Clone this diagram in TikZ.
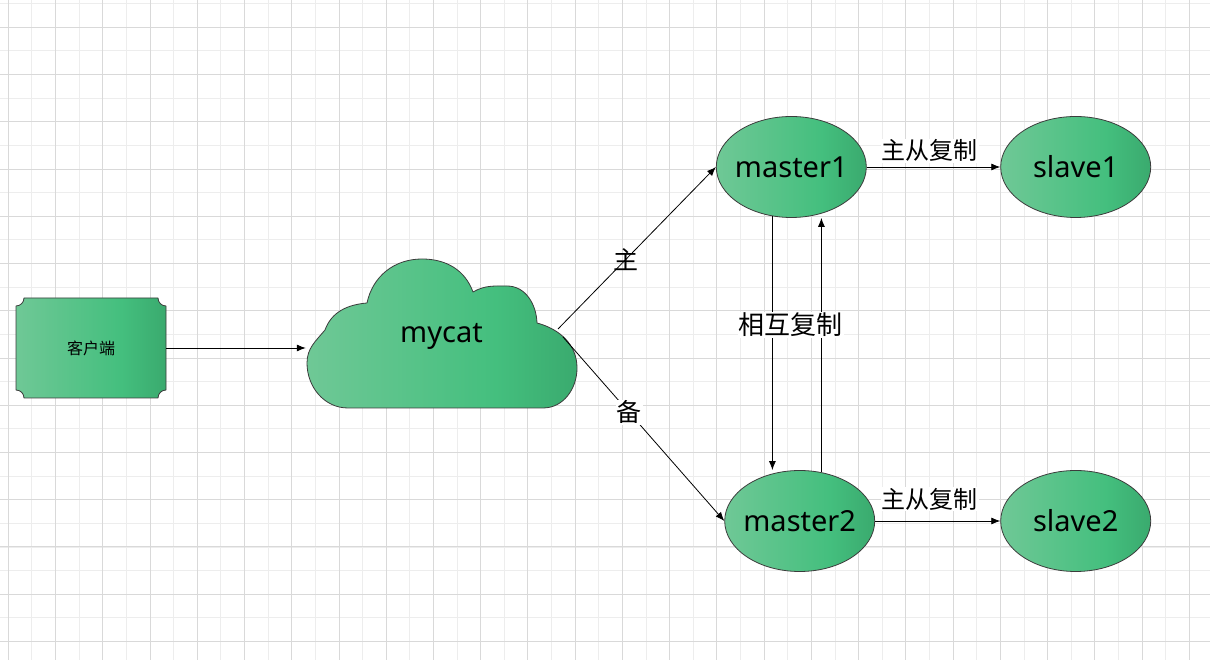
\documentclass[tikz,border=0pt]{standalone}
\usepackage{fontspec}
\setmainfont{Noto Sans}
\newfontfamily\cjk{Noto Sans CJK SC}
\usetikzlibrary{shapes.geometric,arrows.meta}
\definecolor{gLight}{HTML}{6FC896}
\definecolor{gMid}{HTML}{44BF7E}
\definecolor{gDark}{HTML}{3AAA6E}
\definecolor{gridmin}{HTML}{EDEDED}
\definecolor{gridmaj}{HTML}{D9D9D9}
\definecolor{edgegray}{HTML}{3C3C3C}
\pgfdeclarehorizontalshading{greenfade}{100bp}{color(0bp)=(gLight); color(25bp)=(gLight); color(60bp)=(gMid); color(75bp)=(gDark); color(100bp)=(gDark)}

\begin{document}
\begin{tikzpicture}[x=1pt, y=1pt, line join=round, >={Latex[length=9pt,width=7pt]},
	greenbody/.style={shade, shading=greenfade, draw=edgegray, line width=0.8pt},
	db/.style={greenbody, ellipse, minimum width=150pt, minimum height=101pt, inner xsep=-6pt, inner ysep=0pt, font=\fontsize{29}{31}\selectfont},
	arr/.style={->, line width=0.8pt},
	lbl/.style={font=\cjk\fontsize{24}{26}\selectfont, inner sep=1pt}]
	\def\W{1210} \def\H{660}
	\fill[white] (0,0) rectangle (\W,\H);
	\useasboundingbox (0,0) rectangle (\W,\H);
	% grid
	\foreach \k in {0,...,50} \draw[gridmin, line width=0.9pt] ({8.3+23.62*\k},0) -- ++(0,\H);
	\foreach \k in {0,...,27} \draw[gridmin, line width=0.9pt] (0,{656.3-23.62*\k}) -- ++(\W,0);
	\foreach \k in {0,...,25} \draw[gridmaj, line width=0.9pt] ({8.3+47.24*\k},0) -- ++(0,\H);
	\foreach \k in {0,...,13} \draw[gridmaj, line width=0.9pt] (0,{632.7-47.24*\k}) -- ++(\W,0);
	% client box
	\path[greenbody] (24,362) -- (158,362) arc[start angle=180,end angle=270,radius=8]
		-- (166,270) arc[start angle=90,end angle=180,radius=8]
		-- (24,262) arc[start angle=0,end angle=90,radius=8]
		-- (16,354) arc[start angle=270,end angle=360,radius=8] -- cycle;
	\node[font=\cjk\fontsize{16}{18}\selectfont, minimum width=150pt, minimum height=100pt, inner sep=0pt] (client) at (91,312) {客户端};
	% cloud
	\path[greenbody] (348,252) to[out=180,in=270] (307,297) to[out=90,in=230] (325,330)
		to[out=70,in=185] (367,357) to[out=78,in=180] (422,401) to[out=0,in=110] (473,368)
		to[out=30,in=180] (507,374) to[out=0,in=92] (537,337) to[out=-15,in=90] (577,292)
		to[out=270,in=0] (543,252) -- cycle;
	\node[font=\fontsize{29}{31}\selectfont, minimum width=271pt, minimum height=150pt, inner sep=0pt] (mycat) at (441.5,324) {mycat};
	\coordinate (mc1) at (558,331);
	\coordinate (mc2) at (563,323);
	% databases
	\node[db] (master1) at (791.3,493) {master1};
	\node[db] (slave1) at (1075.7,493) {slave1};
	\node[db] (master2) at (799.7,139) {master2};
	\node[db] (slave2) at (1075.7,139) {slave2};
	% connectors
	\draw[arr] (client.east) -- (client.east -| mycat.west);
	\draw[arr] (mc1) -- node[lbl, pos=0.43, font=\cjk\fontsize{25}{27}\selectfont] (zhu) {主} (master1.west);
	\draw[arr] (mc2) -- node[lbl, pos=0.41, fill=white, font=\cjk\fontsize{25}{27}\selectfont] (bei) {备} (master2.west);
	\draw[arr] (master1.east) -- node[lbl, midway, fill=white, xshift=-3.7pt, yshift=16.2pt] (rep1) {主从复制} (slave1.west);
	\draw[arr] (master2.east) -- node[lbl, midway, fill=white, xshift=-8pt, yshift=21.7pt] (rep2) {主从复制} (slave2.west);
	\draw[arr] (master1.249) -- (master1.249 |- master2.north);
	\draw[arr] (master2.66) -- (master2.66 |- master1.south);
	\node[lbl, fill=white, font=\cjk\fontsize{26}{28}\selectfont] (mutual) at (790.8,335.3) {相互复制};
\end{tikzpicture}
\end{document}
